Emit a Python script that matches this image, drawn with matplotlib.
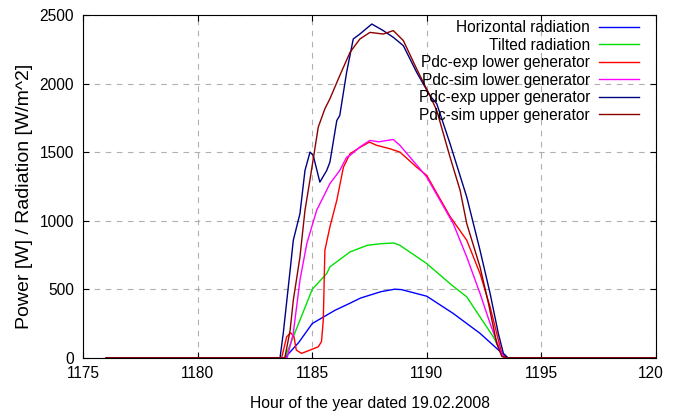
import matplotlib
matplotlib.use("Agg")
import matplotlib.pyplot as plt
from matplotlib import font_manager
from matplotlib.transforms import Bbox, TransformedBbox

OUTPUT_PATH = "out.png"

# hours (x) and values (y), one pair per series
hz_hours = [1176, 1183.8, 1184.4, 1185.0, 1186.0, 1186.65, 1187.1, 1188.0, 1188.6,
            1188.9, 1190.0, 1191.16, 1192.33, 1193.06, 1193.5, 1200]
hz_vals = [0, 0, 110, 250, 347, 398, 435, 482, 500, 497, 449, 323, 178, 68, 0, 0]

tilt_hours = [1176, 1183.8, 1184.17, 1185.0, 1185.63, 1185.77, 1186.65, 1187.4, 1188.0,
              1188.56, 1188.83, 1190.0, 1191.1, 1191.75, 1192.33, 1192.91, 1193.35, 1193.5, 1200]
tilt_vals = [0, 0, 153, 500, 614, 663, 772, 820, 832, 837, 820, 687, 529, 444, 298, 153, 7, 0, 0]

pexp_low_hours = [1176, 1183.66, 1183.88, 1184.05, 1184.2, 1184.3, 1184.53, 1184.9, 1185.26,
                  1185.4, 1185.48, 1185.55, 1185.77, 1186.07, 1186.36, 1186.65, 1187.1,
                  1187.5, 1187.8, 1188.4, 1188.83, 1189.56, 1190.0, 1191.02, 1191.75,
                  1192.33, 1192.77, 1193.06, 1193.28, 1193.5, 1200]
pexp_low_vals = [0, 0, 153, 182, 153, 56, 32, 56, 80, 117, 274, 784, 955, 1148, 1390, 1488,
                 1536, 1573, 1550, 1524, 1500, 1390, 1330, 1030, 857, 614, 371, 177, 32, 0, 0]

psim_low_hours = [1176, 1183.9, 1184.17, 1184.46, 1184.76, 1185.19, 1185.77, 1186.2, 1186.5,
                  1186.65, 1187.1, 1187.52, 1187.9, 1188.54, 1188.83, 1189.7, 1190.0,
                  1191.16, 1191.75, 1192.33, 1192.77, 1193.2, 1193.4, 1200]
psim_low_vals = [0, 0, 180, 566, 833, 1075, 1270, 1366, 1463, 1476, 1540, 1585, 1575, 1592,
                 1549, 1379, 1318, 978, 735, 469, 250, 56, 0, 0]

pexp_up_hours = [1176, 1183.59, 1183.73, 1184.03, 1184.17, 1184.46, 1184.68, 1184.9, 1185.04,
                 1185.33, 1185.63, 1185.77, 1186.07, 1186.2, 1186.5, 1186.79, 1187.08,
                 1187.6, 1188.1, 1188.54, 1188.98, 1189.56, 1190.14, 1190.44, 1191.02,
                 1191.75, 1192.33, 1192.77, 1193.13, 1193.35, 1193.55, 1200]
pexp_up_vals = [0, 0, 177, 638, 857, 1051, 1366, 1500, 1476, 1281, 1366, 1427, 1730, 1767,
                2082, 2325, 2361, 2434, 2386, 2337, 2276, 2082, 1912, 1852, 1561, 1172, 784,
                469, 177, 32, 0, 0]

psim_up_hours = [1176, 1183.8, 1184.03, 1184.17, 1184.46, 1184.68, 1184.9, 1185.26, 1185.55,
                 1185.77, 1186.2, 1186.65, 1187.08, 1187.52, 1188.1, 1188.54, 1188.98,
                 1189.56, 1190.14, 1190.44, 1191.02, 1191.46, 1191.75, 1192.33, 1192.7,
                 1193.06, 1193.28, 1193.45, 1200]
psim_up_vals = [0, 0, 200, 420, 735, 1075, 1300, 1682, 1816, 1889, 2058, 2228, 2325, 2373,
                2361, 2386, 2313, 2107, 1912, 1803, 1463, 1221, 978, 662, 396, 105, 10, 0, 0]

series = [
    ("Horizontal radiation", hz_hours, hz_vals, "#0000ff"),
    ("Tilted radiation", tilt_hours, tilt_vals, "#00e000"),
    ("Pdc-exp lower generator", pexp_low_hours, pexp_low_vals, "#ff0000"),
    ("Pdc-sim lower generator", psim_low_hours, psim_low_vals, "#ff00ff"),
    ("Pdc-exp upper generator", pexp_up_hours, pexp_up_vals, "#000080"),
    ("Pdc-sim upper generator", psim_up_hours, psim_up_vals, "#8b0000"),
]

x_ticks = [1175, 1180, 1185, 1190, 1195, 1200]
y_ticks = [0, 500, 1000, 1500, 2000, 2500]

installed = {f.name for f in font_manager.fontManager.ttflist}
family = "Liberation Sans Narrow" if "Liberation Sans Narrow" in installed else "Liberation Sans"
plt.rcParams["font.family"] = [family, "DejaVu Sans"]


def save_chart():
    fig = plt.figure(figsize=(6.82, 4.16), dpi=100)
    ax = fig.add_axes([0.1224, 0.140, 0.8388, 0.824])
    for label, hours, vals, color in series:
        ax.plot(hours, vals, color=color, lw=1.0, label=label)

    ax.set_xlim(1175, 1200)
    ax.set_ylim(0, 2500)
    ax.set_xticks(x_ticks)
    ax.set_yticks(y_ticks)
    ax.tick_params(direction="in", top=True, right=True, length=4, labelsize=11.2)
    ax.tick_params(axis="y", pad=7)
    ax.tick_params(axis="x", pad=6)
    ax.grid(True, color="#b0b0b0", linestyle=(0, (5, 5)), lw=0.8)
    ax.set_xlabel("Hour of the year dated 19.02.2008", fontsize=11.3, labelpad=11)
    ax.set_ylabel("Power [W] / Radiation [W/m^2]", fontsize=14)
    ax.yaxis.set_label_coords(-0.088, 0.47)

    # the original image cuts the last tick label at its right edge
    cut = TransformedBbox(Bbox([[0, 0], [663 / 682, 1]]), fig.transFigure)
    last = ax.get_xticklabels()[-1]
    last.set_clip_box(cut)
    last.set_clip_on(True)

    leg = ax.legend(loc="upper right", bbox_to_anchor=(0.971, 0.985), frameon=False,
                    markerfirst=False, fontsize=11.2, handlelength=2.57, handletextpad=0.58,
                    labelspacing=0.16, borderaxespad=0, borderpad=0, alignment="right")
    for t in leg.get_texts():
        t.set_ha("right")
    leg._legend_box.align = "right"

    fig.savefig(OUTPUT_PATH, dpi=100)
    plt.close(fig)


if __name__ == "__main__":
    save_chart()
